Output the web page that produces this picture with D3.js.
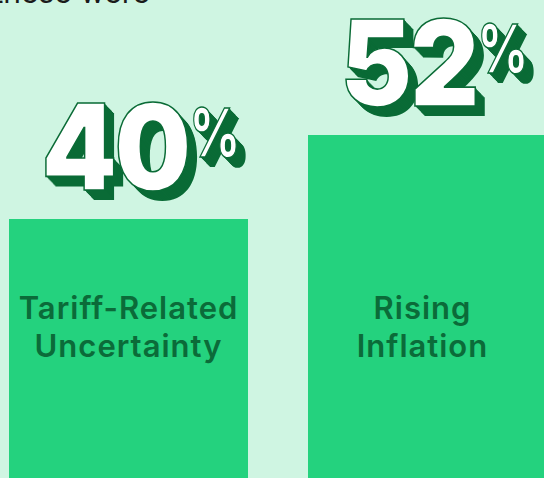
<!DOCTYPE html>
<html>
<head>
<meta charset="utf-8">
<script src="https://cdn.jsdelivr.net/npm/d3@7"></script>
<style>
    body { margin: 0; background: #cff5e2; overflow: hidden; }
</style>
</head>
<body>
<div id="chart"></div>
<script>
const categories = ["Tariff-Related Uncertainty", "Rising Inflation"];
const labelLines = [["Tariff-Related", "Uncertainty"], ["Rising", "Inflation"]];
const values = [40, 52];
const headline = "these were";

const width = 544;
const height = 478;

function drawBars() {
    const svg = d3.select('#chart').append('svg')
        .attr('width', width)
        .attr('height', height);

    svg.append('rect')
        .attr('width', width)
        .attr('height', height)
        .attr('fill', '#cff5e2');

    // headline cut at the top
    svg.append('text')
        .attr('x', 150)
        .attr('y', 3)
        .attr('text-anchor', 'end')
        .attr('font-family', 'Inter, sans-serif')
        .attr('font-size', 30)
        .attr('fill', '#1b1b1b')
        .text(headline);

    const x = d3.scaleBand()
        .domain(categories)
        .range([9, 547])
        .paddingInner(60 / 299);

    const y = d3.scaleLinear()
        .domain([0, 52])
        .range([499, 135]);

    const g = svg.append('g');

    g.selectAll('rect.bar')
        .data(categories)
        .enter()
        .append('rect')
        .attr('class', 'bar')
        .attr('x', d => x(d))
        .attr('y', (d, i) => y(values[i]))
        .attr('width', x.bandwidth())
        .attr('height', (d, i) => y(0) - y(values[i]))
        .attr('fill', '#24d27e');

    // category labels inside bars
    categories.forEach((c, i) => {
        const cx = x(c) + x.bandwidth() / 2 - (i == 1 ? 5 : 0);
        const t = g.append('text')
            .attr('text-anchor', 'middle')
            .attr('font-family', 'Inter, sans-serif')
            .attr('font-weight', 600)
            .attr('font-size', 31)
            .attr('letter-spacing', 1)
            .attr('fill', '#0b6b39');
        labelLines[i].forEach((line, j) => {
            t.append('tspan')
                .attr('x', cx)
                .attr('y', 319 + j * 38)
                .text(line);
        });
    });

    // big 3D numbers
    categories.forEach((c, i) => {
        const left = x(c) + x.bandwidth() / 2 - 87;
        const base = y(values[i]) - 29;
        const num = g.append('g').attr('transform', `translate(${left},${base})`);
        const depth = 10;
        const sx = 0.9;
        for (let k = depth; k >= 0; k--) {
            const layer = num.append('g')
                .attr('transform', `translate(${k * 0.95},${k})`);
            const dt = layer.append('text')
                .attr('transform', `scale(${sx},1)`)
                .attr('text-anchor', 'start')
                .attr('font-family', 'Inter, sans-serif')
                .attr('font-weight', 900)
                .attr('font-size', 120)
                .attr('letter-spacing', -3)
                .attr('fill', k == 0 ? '#ffffff' : '#0a6b36')
                .attr('stroke', '#0a6b36')
                .attr('stroke-width', k == 0 ? 1.6 : 0)
                .text(values[i]);
            const digitsWidth = dt.node().getBBox().width * sx;
            layer.append('text')
                .attr('transform', `translate(${digitsWidth + 1},-33) scale(0.72,1)`)
                .attr('text-anchor', 'start')
                .attr('font-family', 'Inter, sans-serif')
                .attr('font-weight', 800)
                .attr('font-size', 68)
                .attr('fill', k == 0 ? '#ffffff' : '#0a6b36')
                .attr('stroke', '#0a6b36')
                .attr('stroke-width', k == 0 ? 1.5 : 0)
                .text('%');
        }
    });
}
drawBars();
</script>
</body>
</html>
